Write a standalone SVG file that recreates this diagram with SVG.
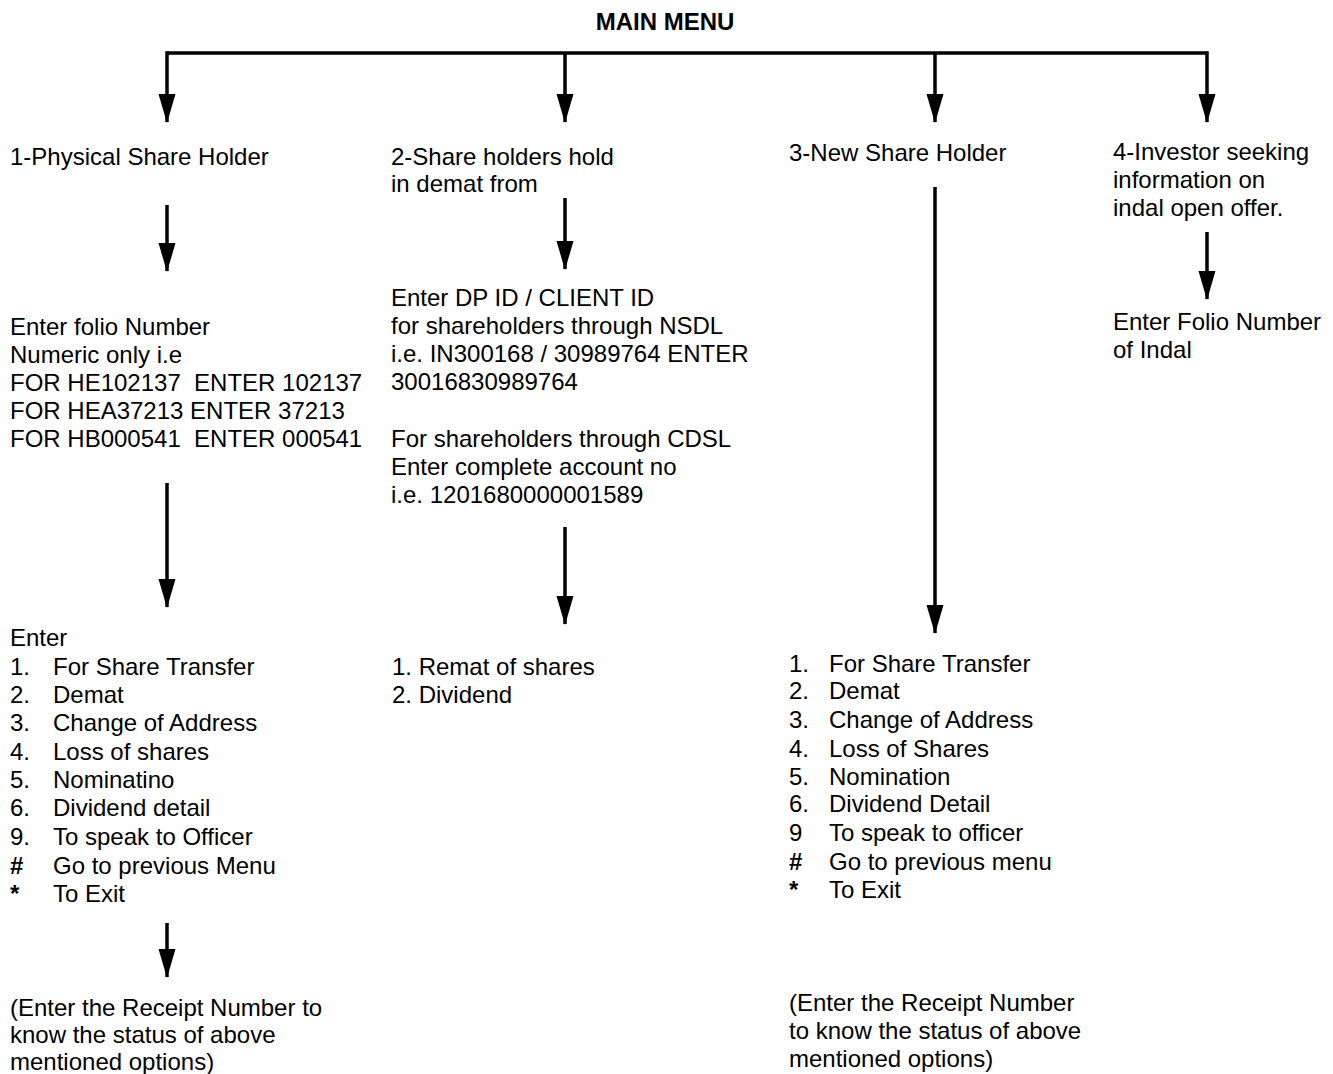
<svg xmlns="http://www.w3.org/2000/svg" width="1333" height="1074" viewBox="0 0 1333 1074">
<style>
  text { font-family: "Liberation Sans", Arial, sans-serif; font-size: 24px; fill: #000; }
  .title { font-weight: bold; }
  .sym { font-weight: bold; }
  .conn { stroke: #000; stroke-width: 3.5; fill: none; }
</style>
<defs>
  <marker id="arr" markerUnits="userSpaceOnUse" markerWidth="30" markerHeight="20" refX="28" refY="10" orient="auto" viewBox="0 0 30 20">
    <path d="M0,1.5 L29,10 L0,18.5 Z" fill="#000"/>
  </marker>
</defs>

<g id="connectors">
  <path class="conn" d="M167,53 H1207"/>
  <path class="conn" d="M167,51.25 V122" marker-end="url(#arr)"/>
  <path class="conn" d="M565,53 V122" marker-end="url(#arr)"/>
  <path class="conn" d="M935,53 V122" marker-end="url(#arr)"/>
  <path class="conn" d="M1207,51.25 V122" marker-end="url(#arr)"/>
  <path class="conn" d="M167,205 V271" marker-end="url(#arr)"/>
  <path class="conn" d="M167,483 V607" marker-end="url(#arr)"/>
  <path class="conn" d="M167,923 V977" marker-end="url(#arr)"/>
  <path class="conn" d="M565,198 V269" marker-end="url(#arr)"/>
  <path class="conn" d="M565,527 V624" marker-end="url(#arr)"/>
  <path class="conn" d="M935,187 V633" marker-end="url(#arr)"/>
  <path class="conn" d="M1207,232 V299" marker-end="url(#arr)"/>
</g>

<g id="main-menu">
  <text class="title" x="665" y="30" text-anchor="middle">MAIN MENU</text>
</g>

<g id="physical-share-holder">
  <text x="10" y="165">1-Physical Share Holder</text>
</g>

<g id="demat-holders">
  <text x="391" y="165">2-Share holders hold</text>
  <text x="391" y="192">in demat from</text>
</g>

<g id="new-share-holder">
  <text x="789" y="161">3-New Share Holder</text>
</g>

<g id="investor">
  <text x="1113" y="160">4-Investor seeking</text>
  <text x="1113" y="188">information on</text>
  <text x="1113" y="216">indal open offer.</text>
</g>

<g id="folio-entry">
  <text x="10" y="335">Enter folio Number</text>
  <text x="10" y="363">Numeric only i.e</text>
  <text x="10" y="391" xml:space="preserve">FOR HE102137  ENTER 102137</text>
  <text x="10" y="419">FOR HEA37213 ENTER 37213</text>
  <text x="10" y="447" xml:space="preserve">FOR HB000541  ENTER 000541</text>
</g>

<g id="dp-entry">
  <text x="391" y="306">Enter DP ID / CLIENT ID</text>
  <text x="391" y="334">for shareholders through NSDL</text>
  <text x="391" y="362">i.e. IN300168 / 30989764 ENTER</text>
  <text x="391" y="390">30016830989764</text>
  <text x="391" y="447">For shareholders through CDSL</text>
  <text x="391" y="475">Enter complete account no</text>
  <text x="391" y="503">i.e. 1201680000001589</text>
</g>

<g id="indal-folio">
  <text x="1113" y="330">Enter Folio Number</text>
  <text x="1113" y="358">of Indal</text>
</g>

<g id="physical-options">
  <text x="10" y="646">Enter</text>
  <text x="10" y="675">1.</text><text x="53" y="675">For Share Transfer</text>
  <text x="10" y="703">2.</text><text x="53" y="703">Demat</text>
  <text x="10" y="731">3.</text><text x="53" y="731">Change of Address</text>
  <text x="10" y="760">4.</text><text x="53" y="760">Loss of shares</text>
  <text x="10" y="788">5.</text><text x="53" y="788">Nominatino</text>
  <text x="10" y="816">6.</text><text x="53" y="816">Dividend detail</text>
  <text x="10" y="845">9.</text><text x="53" y="845">To speak to Officer</text>
  <text class="sym" x="10" y="874">#</text><text x="53" y="874">Go to previous Menu</text>
  <text class="sym" x="10" y="902">*</text><text x="53" y="902">To Exit</text>
</g>

<g id="demat-options">
  <text x="392" y="675">1. Remat of shares</text>
  <text x="392" y="703">2. Dividend</text>
</g>

<g id="new-options">
  <text x="789" y="672">1.</text><text x="829" y="672">For Share Transfer</text>
  <text x="789" y="699">2.</text><text x="829" y="699">Demat</text>
  <text x="789" y="728">3.</text><text x="829" y="728">Change of Address</text>
  <text x="789" y="757">4.</text><text x="829" y="757">Loss of Shares</text>
  <text x="789" y="785">5.</text><text x="829" y="785">Nomination</text>
  <text x="789" y="812">6.</text><text x="829" y="812">Dividend Detail</text>
  <text x="789" y="841">9</text><text x="829" y="841">To speak to officer</text>
  <text class="sym" x="789" y="870">#</text><text x="829" y="870">Go to previous menu</text>
  <text class="sym" x="789" y="898">*</text><text x="829" y="898">To Exit</text>
</g>

<g id="physical-receipt">
  <text x="10" y="1016">(Enter the Receipt Number to</text>
  <text x="10" y="1043">know the status of above</text>
  <text x="10" y="1070">mentioned options)</text>
</g>

<g id="new-receipt">
  <text x="789" y="1011">(Enter the Receipt Number</text>
  <text x="789" y="1039">to know the status of above</text>
  <text x="789" y="1067">mentioned options)</text>
</g>
</svg>
